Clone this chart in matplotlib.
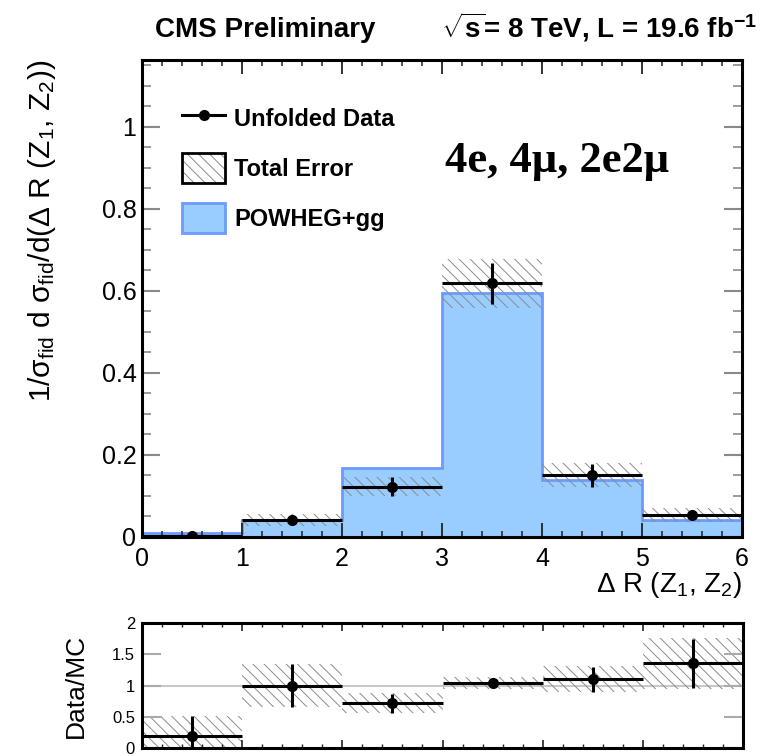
import matplotlib
matplotlib.use("Agg")
import matplotlib.pyplot as plt
import numpy as np
from matplotlib.lines import Line2D
from matplotlib.patches import Patch
from matplotlib.legend_handler import HandlerTuple
from matplotlib.ticker import MultipleLocator, FixedLocator, FuncFormatter

plt.rcParams['font.family'] = ['Liberation Sans', 'DejaVu Sans']
plt.rcParams['mathtext.fontset'] = 'custom'
plt.rcParams['mathtext.rm'] = 'Liberation Sans'
plt.rcParams['mathtext.it'] = 'Liberation Sans'
plt.rcParams['mathtext.bf'] = 'Liberation Sans:bold'
plt.rcParams['hatch.linewidth'] = 0.7
plt.rcParams['hatch.color'] = '#8c8c8c'

# delta R(Z1, Z2) bins, normalised fiducial cross section
bin_edges = [0, 1, 2, 3, 4, 5, 6]
mc_pred = [0.0105, 0.041, 0.169, 0.594, 0.139, 0.0415]
data_val = [0.002, 0.041, 0.123, 0.619, 0.151, 0.0537]
data_err = [0.0035, 0.012, 0.024, 0.05, 0.028, 0.01]
total_err = [0.0035, 0.014, 0.023, 0.06, 0.03, 0.016]

# data / MC
ratio_val = [0.19, 1.0, 0.715, 1.04, 1.10, 1.355]
ratio_err = [0.32, 0.35, 0.15, 0.03, 0.2, 0.39]
ratio_band = [0.33, 0.34, 0.16, 0.09, 0.21, 0.41]

edges = np.array(bin_edges, dtype=float)
centers = 0.5 * (edges[1:] + edges[:-1])
half_w = 0.5 * np.diff(edges)
data_val = np.array(data_val)
total_err = np.array(total_err)
ratio_val = np.array(ratio_val)
ratio_band = np.array(ratio_band)

HATCH = '\\\\\\'
FILL = '#99ccff'
EDGE = '#6b9bff'
fmt = FuncFormatter(lambda v, p: '%g' % v)

fig = plt.figure(figsize=(7.6, 7.56), dpi=100)
ax = fig.add_axes([142 / 760, 1 - 537 / 756, 600 / 760, 477 / 756])
rax = fig.add_axes([142 / 760, 1 - 748 / 756, 601 / 760, 125 / 756])

# main panel
ax.stairs(mc_pred, edges, fill=True, facecolor=FILL, edgecolor=EDGE, linewidth=2)
ax.stairs(data_val + total_err, edges, baseline=data_val - total_err, fill=True,
          facecolor='none', edgecolor='#8c8c8c', hatch=HATCH, linewidth=0)
ax.errorbar(centers, data_val, xerr=half_w, yerr=data_err, fmt='o', color='k',
            ms=7, elinewidth=2.2, capsize=0)

ax.set_xlim(edges[0], edges[-1])
ax.set_ylim(0, 1.163)
ax.xaxis.set_major_locator(MultipleLocator(1))
ax.xaxis.set_minor_locator(MultipleLocator(0.2))
ax.yaxis.set_major_locator(MultipleLocator(0.2))
ax.yaxis.set_minor_locator(MultipleLocator(0.05))
ax.xaxis.set_major_formatter(fmt)
ax.yaxis.set_major_formatter(fmt)
ax.tick_params(axis='y', which='both', direction='in', left=True, right=True,
               color='#8a8a8a', labelsize=18, pad=4)
ax.tick_params(axis='y', which='major', length=13, width=1.5)
ax.tick_params(axis='y', which='minor', length=6.5, width=1.2)
ax.tick_params(axis='x', which='both', direction='in', top=True, bottom=True,
               color='#222222', labelsize=18, pad=7)
ax.tick_params(axis='x', which='major', length=10, width=1.3)
ax.tick_params(axis='x', which='minor', length=4.5, width=1.1)
for s in ax.spines.values():
    s.set_linewidth(2.2)

ax.set_xlabel(r'$\Delta$ R (Z$_{1}$, Z$_{2}$)', fontsize=20, loc='right')
ax.xaxis.set_label_coords(1.0, -0.07)
ax.set_ylabel(r'1/$\sigma_{fid}$ d $\sigma_{fid}$/d($\Delta$ R (Z$_{1}$, Z$_{2}$))',
              fontsize=21.5, loc='top')
ax.yaxis.set_label_coords(-0.14, 1.0)

handles = [
    Line2D([], [], color='k', lw=2.2, marker='o', ms=7),
    (Patch(facecolor='white', edgecolor='#8c8c8c', hatch=HATCH, linewidth=0),
     Patch(facecolor='none', edgecolor='k', linewidth=2)),
    Patch(facecolor=FILL, edgecolor=EDGE, linewidth=2),
]
labels = ['Unfolded Data', 'Total Error', 'POWHEG+gg']
ax.legend(handles, labels, loc='upper left', bbox_to_anchor=(0.0667, 0.909),
          frameon=False, borderpad=0, borderaxespad=0, handlelength=1.82,
          handleheight=1.57, handletextpad=0.4, labelspacing=0.84,
          prop={'weight': 'bold', 'size': 17},
          handler_map={tuple: HandlerTuple(ndivide=1, pad=0)})

ax.text(0.505, 0.765, '4e, 4\u03bc, 2e2\u03bc', transform=ax.transAxes,
        fontsize=32, fontweight='bold', family=['Liberation Serif', 'DejaVu Serif'],
        ha='left', va='baseline')

fig.text(155 / 760, 1 - 37 / 756, 'CMS Preliminary', fontsize=20,
         fontweight='bold', ha='left', va='baseline')
fig.text(757 / 760, 1 - 37 / 756,
         r'$\sqrt{\mathbf{s}}$= 8 TeV, L = 19.6 fb$^{\mathbf{-1}}$',
         fontsize=20, fontweight='bold', ha='right', va='baseline')

# ratio panel
rax.axhline(1.0, color='#c8c8c8', lw=1.5, zorder=0.5)
rax.stairs(ratio_val + ratio_band, edges, baseline=ratio_val - ratio_band,
           fill=True, facecolor='none', edgecolor='#8c8c8c', hatch=HATCH,
           linewidth=0)
rax.errorbar(centers, ratio_val, xerr=half_w, yerr=ratio_err, fmt='o', color='k',
             ms=7, elinewidth=2.2, capsize=0)
rax.set_xlim(edges[0], edges[-1])
rax.set_ylim(0, 2)
rax.xaxis.set_major_locator(MultipleLocator(1))
rax.xaxis.set_minor_locator(MultipleLocator(0.2))
rax.yaxis.set_major_locator(FixedLocator([0, 0.5, 1, 1.5, 2]))
rax.yaxis.set_major_formatter(fmt)
rax.tick_params(axis='x', which='both', direction='in', top=True, bottom=True,
                labelbottom=False, color='#222222')
rax.tick_params(axis='x', which='major', length=5.5, width=1.2)
rax.tick_params(axis='x', which='minor', length=3, width=1)
rax.tick_params(axis='y', which='major', direction='in', left=True, right=True,
                length=14, width=1.5, color='#aaaaaa', labelsize=12, pad=5)
for s in rax.spines.values():
    s.set_linewidth(2.2)
rax.set_ylabel('Data/MC', fontsize=19)
rax.yaxis.set_label_coords(-0.09, 0.5)

fig.savefig('out.png', dpi=100)
